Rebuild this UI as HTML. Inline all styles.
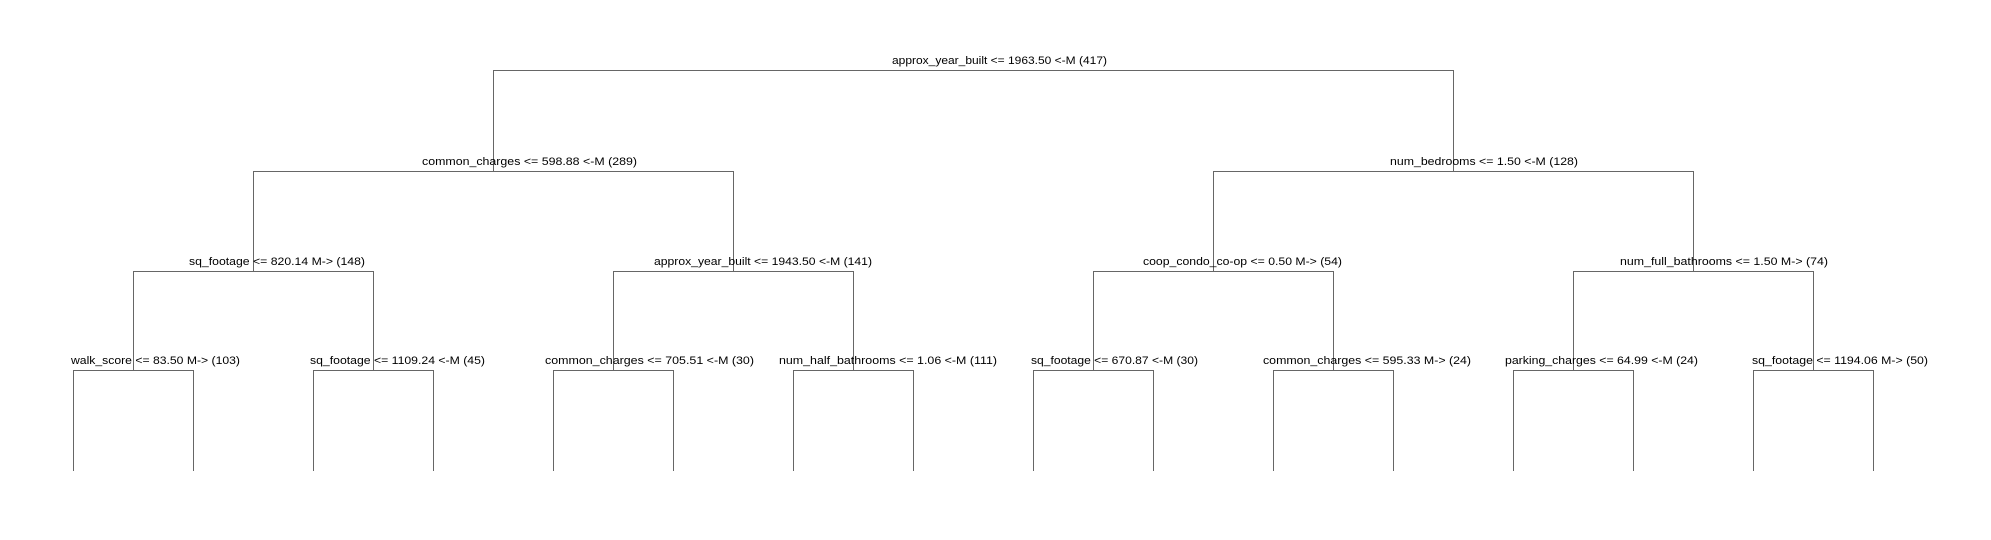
<!DOCTYPE html>
<html><head><meta charset="utf-8"><style>
html,body{margin:0;padding:0;background:#fff;}
svg{display:block}
text{font-family:"Liberation Sans",sans-serif;font-size:11px;fill:#000}
</style></head><body>
<svg width="1991" height="540" viewBox="0 0 1991 540" xmlns="http://www.w3.org/2000/svg">
<g stroke="#666" stroke-width="1" fill="none" shape-rendering="crispEdges">
<line x1="493" y1="70.5" x2="1453" y2="70.5"/>
<line x1="493.5" y1="70" x2="493.5" y2="171"/>
<line x1="1453.5" y1="70" x2="1453.5" y2="171"/>
<line x1="253" y1="171.5" x2="733" y2="171.5"/>
<line x1="1213" y1="171.5" x2="1693" y2="171.5"/>
<line x1="253.5" y1="171" x2="253.5" y2="271"/>
<line x1="733.5" y1="171" x2="733.5" y2="271"/>
<line x1="1213.5" y1="171" x2="1213.5" y2="271"/>
<line x1="1693.5" y1="171" x2="1693.5" y2="271"/>
<line x1="133" y1="271.5" x2="373" y2="271.5"/>
<line x1="613" y1="271.5" x2="853" y2="271.5"/>
<line x1="1093" y1="271.5" x2="1333" y2="271.5"/>
<line x1="1573" y1="271.5" x2="1813" y2="271.5"/>
<line x1="133.5" y1="271" x2="133.5" y2="370"/>
<line x1="373.5" y1="271" x2="373.5" y2="370"/>
<line x1="613.5" y1="271" x2="613.5" y2="370"/>
<line x1="853.5" y1="271" x2="853.5" y2="370"/>
<line x1="1093.5" y1="271" x2="1093.5" y2="370"/>
<line x1="1333.5" y1="271" x2="1333.5" y2="370"/>
<line x1="1573.5" y1="271" x2="1573.5" y2="370"/>
<line x1="1813.5" y1="271" x2="1813.5" y2="370"/>
<line x1="73" y1="370.5" x2="193" y2="370.5"/>
<line x1="313" y1="370.5" x2="433" y2="370.5"/>
<line x1="553" y1="370.5" x2="673" y2="370.5"/>
<line x1="793" y1="370.5" x2="913" y2="370.5"/>
<line x1="1033" y1="370.5" x2="1153" y2="370.5"/>
<line x1="1273" y1="370.5" x2="1393" y2="370.5"/>
<line x1="1513" y1="370.5" x2="1633" y2="370.5"/>
<line x1="1753" y1="370.5" x2="1873" y2="370.5"/>
<line x1="73.5" y1="370" x2="73.5" y2="471"/>
<line x1="193.5" y1="370" x2="193.5" y2="471"/>
<line x1="313.5" y1="370" x2="313.5" y2="471"/>
<line x1="433.5" y1="370" x2="433.5" y2="471"/>
<line x1="553.5" y1="370" x2="553.5" y2="471"/>
<line x1="673.5" y1="370" x2="673.5" y2="471"/>
<line x1="793.5" y1="370" x2="793.5" y2="471"/>
<line x1="913.5" y1="370" x2="913.5" y2="471"/>
<line x1="1033.5" y1="370" x2="1033.5" y2="471"/>
<line x1="1153.5" y1="370" x2="1153.5" y2="471"/>
<line x1="1273.5" y1="370" x2="1273.5" y2="471"/>
<line x1="1393.5" y1="370" x2="1393.5" y2="471"/>
<line x1="1513.5" y1="370" x2="1513.5" y2="471"/>
<line x1="1633.5" y1="370" x2="1633.5" y2="471"/>
<line x1="1753.5" y1="370" x2="1753.5" y2="471"/>
<line x1="1873.5" y1="370" x2="1873.5" y2="471"/>
</g>
<g>
<text x="892" y="64" textLength="215" lengthAdjust="spacingAndGlyphs">approx_year_built &lt;= 1963.50 &lt;-M (417)</text>
<text x="422" y="165" textLength="215" lengthAdjust="spacingAndGlyphs">common_charges &lt;= 598.88 &lt;-M (289)</text>
<text x="1390" y="165" textLength="188" lengthAdjust="spacingAndGlyphs">num_bedrooms &lt;= 1.50 &lt;-M (128)</text>
<text x="189" y="265" textLength="176" lengthAdjust="spacingAndGlyphs">sq_footage &lt;= 820.14 M-&gt; (148)</text>
<text x="654" y="265" textLength="218" lengthAdjust="spacingAndGlyphs">approx_year_built &lt;= 1943.50 &lt;-M (141)</text>
<text x="1143" y="265" textLength="199" lengthAdjust="spacingAndGlyphs">coop_condo_co-op &lt;= 0.50 M-&gt; (54)</text>
<text x="1620" y="265" textLength="208" lengthAdjust="spacingAndGlyphs">num_full_bathrooms &lt;= 1.50 M-&gt; (74)</text>
<text x="71" y="364" textLength="169" lengthAdjust="spacingAndGlyphs">walk_score &lt;= 83.50 M-&gt; (103)</text>
<text x="310" y="364" textLength="175" lengthAdjust="spacingAndGlyphs">sq_footage &lt;= 1109.24 &lt;-M (45)</text>
<text x="545" y="364" textLength="209" lengthAdjust="spacingAndGlyphs">common_charges &lt;= 705.51 &lt;-M (30)</text>
<text x="779" y="364" textLength="218" lengthAdjust="spacingAndGlyphs">num_half_bathrooms &lt;= 1.06 &lt;-M (111)</text>
<text x="1031" y="364" textLength="167" lengthAdjust="spacingAndGlyphs">sq_footage &lt;= 670.87 &lt;-M (30)</text>
<text x="1263" y="364" textLength="208" lengthAdjust="spacingAndGlyphs">common_charges &lt;= 595.33 M-&gt; (24)</text>
<text x="1505" y="364" textLength="193" lengthAdjust="spacingAndGlyphs">parking_charges &lt;= 64.99 &lt;-M (24)</text>
<text x="1752" y="364" textLength="176" lengthAdjust="spacingAndGlyphs">sq_footage &lt;= 1194.06 M-&gt; (50)</text>
</g>
</svg>
</body></html>
